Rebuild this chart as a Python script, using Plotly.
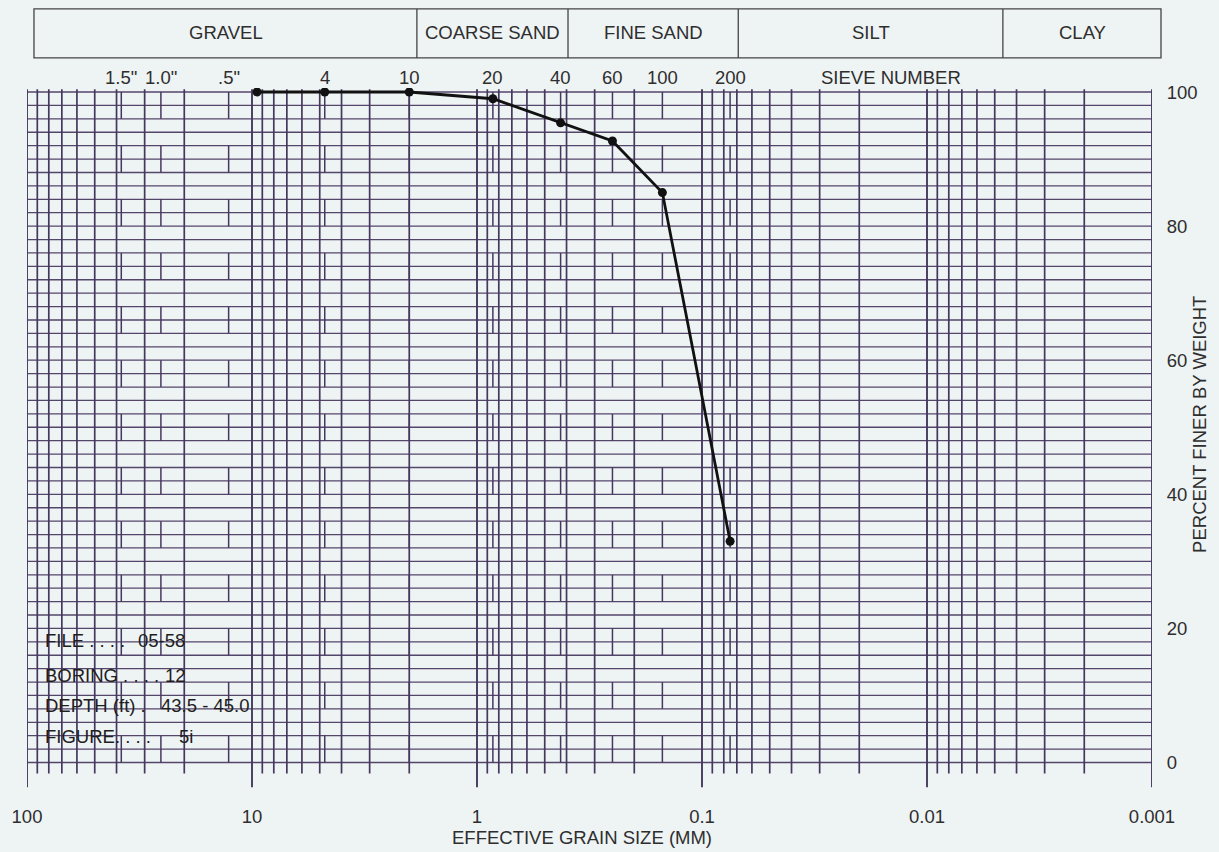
import numpy as np
import plotly.graph_objects as go

# ---------------- data ----------------
sieve_mm = [9.5, 4.75, 2.0, 0.85, 0.425, 0.25, 0.15, 0.075]
percent_finer = [100, 100, 100, 99.0, 95.4, 92.7, 85.0, 33.0]

sieve_labels = ['1.5"', '1.0"', '.5"', '4', '10', '20', '40', '60', '100', '200']
sieve_sizes = [38.1, 25.4, 12.7, 4.75, 2.0, 0.85, 0.425, 0.25, 0.15, 0.075]

soil_classes = ['GRAVEL', 'COARSE SAND', 'FINE SAND', 'SILT', 'CLAY']
class_edges = [92.3, 1.85, 0.394, 0.069, 0.0046, 0.00091]

x_tick_vals = [100, 10, 1, 0.1, 0.01, 0.001]
x_tick_text = ['100', '10', '1', '0.1', '0.01', '0.001']
y_tick_vals = [0, 20, 40, 60, 80, 100]
grid_percent = list(range(0, 101, 2))
dash_starts = list(range(0, 97, 8))

info_labels = ['FILE . . . .', 'BORING . . . .', 'DEPTH (ft) .', 'FIGURE. . . .']
info_values = ['05-58', '12', '43.5 - 45.0', '5i']
info_y = [18.2, 13.0, 8.5, 3.9]
info_value_x = [0.097, 0.121, 0.117, 0.133]

# ---------------- styling ----------------
BG = '#eef3f4'
GRID = '#45385e'
HGRID = '#54466a'
TXT = '#2e2e2e'
FONT = 'Liberation Sans, Arial, sans-serif'
FS = 18.5

fig = go.Figure()

# horizontal grid lines
hx, hy = [], []
for p in grid_percent:
    hx += [100, 0.001, None]
    hy += [p, p, None]
fig.add_trace(go.Scatter(x=hx, y=hy, mode='lines', line=dict(color=HGRID, width=1.3),
                         hoverinfo='skip', showlegend=False))

# vertical minor + decade lines
decades = [0.001, 0.01, 0.1, 1, 10, 100]
mx, my = [], []
for base in decades[:-1]:
    for m in range(2, 10):
        v = m * base
        mx += [v, v, None]
        my += [-1.65, 100.4, None]
fig.add_trace(go.Scatter(x=mx, y=my, mode='lines', line=dict(color=GRID, width=1.7),
                         hoverinfo='skip', showlegend=False))
dx, dy = [], []
for v in decades:
    dx += [v, v, None]
    dy += [-3.7, 100.4, None]
fig.add_trace(go.Scatter(x=dx, y=dy, mode='lines', line=dict(color=GRID, width=1.9),
                         hoverinfo='skip', showlegend=False))

# sieve "brick" dashes
sx, sy = [], []
for v in sieve_sizes:
    for s in dash_starts:
        sx += [v, v, None]
        sy += [s, s + 4, None]
fig.add_trace(go.Scatter(x=sx, y=sy, mode='lines', line=dict(color=GRID, width=1.5),
                         hoverinfo='skip', showlegend=False))

# gradation curve
fig.add_trace(go.Scatter(x=sieve_mm, y=percent_finer, mode='lines+markers',
                         line=dict(color='#111111', width=2.8),
                         marker=dict(color='#111111', size=9),
                         showlegend=False))

# header box (outer frame in paper coords so it is not clipped, dividers on the x scale)
shapes = [dict(type='rect', xref='paper', yref='paper', x0=0.0062, x1=1.008,
               y0=1.0429, y1=1.1129, line=dict(color='#444444', width=1.3))]
for e in class_edges[1:-1]:
    shapes.append(dict(type='line', xref='x', yref='paper', x0=e, x1=e, y0=1.0429, y1=1.1129,
                       line=dict(color='#444444', width=1.3)))

annotations = []
for name, a, b in zip(soil_classes, class_edges[:-1], class_edges[1:]):
    annotations.append(dict(text=name, xref='x', yref='paper',
                            x=(np.log10(a) + np.log10(b)) / 2, y=1.0786,
                            showarrow=False, xanchor='center', yanchor='middle',
                            font=dict(size=FS, color=TXT, family=FONT)))
for lab, v in zip(sieve_labels, sieve_sizes):
    annotations.append(dict(text=lab, xref='x', yref='paper', x=np.log10(v), y=1.0157,
                            showarrow=False, xanchor='center', yanchor='middle',
                            font=dict(size=FS, color=TXT, family=FONT)))
annotations.append(dict(text='SIEVE NUMBER', xref='paper', yref='paper', x=0.7677, y=1.0157,
                        showarrow=False, xanchor='center', yanchor='middle',
                        font=dict(size=FS, color=TXT, family=FONT)))
annotations.append(dict(text='EFFECTIVE GRAIN SIZE (MM)', xref='paper', yref='paper',
                        x=0.493, y=-0.0714, showarrow=False, xanchor='center', yanchor='middle',
                        font=dict(size=FS, color=TXT, family=FONT)))
annotations.append(dict(text='PERCENT FINER BY WEIGHT', xref='paper', yref='paper',
                        x=1.0417, y=0.52, showarrow=False, textangle=-90,
                        xanchor='center', yanchor='middle',
                        font=dict(size=FS, color=TXT, family=FONT)))
for lab, val, yy, vx in zip(info_labels, info_values, info_y, info_value_x):
    annotations.append(dict(text=lab, xref='paper', yref='y', x=0.014, y=yy,
                            showarrow=False, xanchor='left', yanchor='middle',
                            font=dict(size=FS, color='#1e1e1e', family=FONT)))
    annotations.append(dict(text=val, xref='paper', yref='y', x=vx, y=yy,
                            showarrow=False, xanchor='left', yanchor='middle',
                            font=dict(size=FS, color='#1e1e1e', family=FONT)))

fig.update_layout(
    width=1219, height=852,
    margin=dict(l=24, r=67, t=88, b=64),
    paper_bgcolor=BG, plot_bgcolor=BG,
    font=dict(family=FONT, size=FS, color=TXT),
    xaxis=dict(type='log', range=[2, -3], showgrid=False, zeroline=False, showline=False,
               tickvals=x_tick_vals, ticktext=x_tick_text, ticks='outside', ticklen=12,
               tickcolor='rgba(0,0,0,0)', tickfont=dict(size=FS, color=TXT)),
    yaxis=dict(range=[-3.8, 100.6], side='right', showgrid=False, zeroline=False, showline=False,
               tickvals=y_tick_vals, ticks='outside', ticklen=10, tickcolor='rgba(0,0,0,0)',
               tickfont=dict(size=FS, color=TXT)),
    shapes=shapes, annotations=annotations, showlegend=False,
)

fig.write_html('out.html',
               config={'displayModeBar': False},
               post_script="document.body.style.margin='0';"
                           "document.body.style.overflow='hidden';"
                           "document.body.style.background='" + BG + "';")
